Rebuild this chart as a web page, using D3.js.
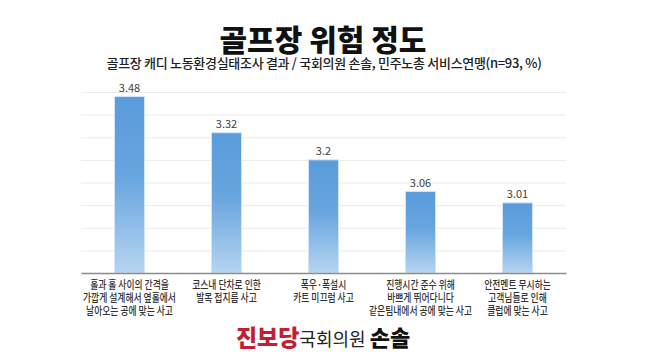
<!DOCTYPE html>
<html>
<head>
<meta charset="utf-8">
<script src="https://cdn.jsdelivr.net/npm/d3@7"></script>
<style>
  body { margin:0; background:#fff; }
  svg { display:block; font-family:"Noto Sans CJK KR", "Noto Sans", sans-serif; }
</style>
</head>
<body>
<svg id="drawing_region"></svg>
<script>
const categories = [
    ['홀과 홀 사이의 간격을', '가깝게 설계해서 옆홀에서', '날아오는 공에 맞는 사고'],
    ['코스내 단차로 인한', '발목 접지름 사고'],
    ['폭우·폭설시', '카트 미끄럼 사고'],
    ['진행시간 준수 위해', '바쁘게 뛰어다니다', '같은팀내에서 공에 맞는 사고'],
    ['안전멘트 무시하는', '고객님들로 인해', '클럽에 맞는 사고']
];
const values = [3.48, 3.32, 3.2, 3.06, 3.01];
const labels = ['3.48', '3.32', '3.2', '3.06', '3.01'];
const yticks = [2.7, 2.8, 2.9, 3.0, 3.1, 3.2, 3.3, 3.4, 3.5];

const config = {
    width: 647,
    height: 364,
    margin: {top: 92, right: 81, bottom: 91, left: 81}
};

const svg = d3.select('#drawing_region')
    .attr('width', config.width)
    .attr('height', config.height);

const inner_width = config.width - config.margin.left - config.margin.right;
const inner_height = config.height - config.margin.top - config.margin.bottom;

const defs = svg.append('defs');
const grad = defs.append('linearGradient')
    .attr('id', 'barfill')
    .attr('x1', 0).attr('y1', 0).attr('x2', 0).attr('y2', 1);
grad.append('stop').attr('offset', '0%').attr('stop-color', '#5a9bdb');
grad.append('stop').attr('offset', '45%').attr('stop-color', '#67a5de');
grad.append('stop').attr('offset', '100%').attr('stop-color', '#b6d4f1');

// titles
svg.append('text')
    .attr('x', 323).attr('y', 51)
    .attr('text-anchor', 'middle')
    .style('font-size', '30px')
    .style('font-weight', 900)
    .style('fill', '#111')
    .text('골프장 위험 정도');

svg.append('text')
    .attr('x', 324).attr('y', 68)
    .attr('text-anchor', 'middle')
    .style('font-size', '13px')
    .style('font-weight', 500)
    .style('letter-spacing', '-0.3px')
    .style('fill', '#222')
    .text('골프장 캐디 노동환경실태조사 결과 / 국회의원 손솔, 민주노총 서비스연맹(n=93, %)');

const chart = svg.append('g')
    .attr('transform', `translate(${config.margin.left}, ${config.margin.top})`);

const xscale = d3.scaleBand()
    .domain(d3.range(values.length))
    .range([0, inner_width])
    .paddingInner(0.69)
    .paddingOuter(0.345);

const yscale = d3.scaleLinear()
    .domain([2.7, 3.5])
    .range([inner_height, 0]);

// grid
const yaxis = d3.axisLeft(yscale)
    .tickValues(yticks)
    .tickSize(-inner_width)
    .tickFormat('');

chart.append('g')
    .call(yaxis)
    .call(g => g.select('.domain').remove())
    .call(g => g.selectAll('.tick line').attr('stroke', '#ebebeb').attr('stroke-width', 1));

chart.selectAll('rect.bar')
    .data(values)
    .enter()
    .append('rect')
    .attr('class', 'bar')
    .attr('x', (d, i) => xscale(i))
    .attr('y', d => yscale(d))
    .attr('width', xscale.bandwidth())
    .attr('height', d => inner_height - yscale(d))
    .style('fill', 'url(#barfill)')
    .style('stroke', '#d3e5f7')
    .style('stroke-width', 1);

chart.selectAll('text.value')
    .data(values)
    .enter()
    .append('text')
    .attr('class', 'value')
    .attr('x', (d, i) => xscale(i) + xscale.bandwidth() / 2)
    .attr('y', d => yscale(d) - 5)
    .attr('text-anchor', 'middle')
    .style('font-size', '11px')
    .style('fill', '#404040')
    .text((d, i) => labels[i]);

// baseline
const xaxis = d3.axisBottom(xscale).tickSize(0).tickFormat('');
chart.append('g')
    .attr('transform', `translate(0, ${inner_height})`)
    .call(xaxis)
    .call(g => g.select('.domain').attr('stroke', '#8c8c8c').attr('stroke-width', 1.5));

// category labels, squeezed horizontally like the condensed original font
const cat = chart.selectAll('text.cat')
    .data(categories)
    .enter()
    .append('text')
    .attr('class', 'cat')
    .attr('text-anchor', 'middle')
    .attr('transform', (d, i) => `translate(${xscale(i) + xscale.bandwidth() / 2}, ${inner_height + 16}) scale(0.8, 1)`)
    .style('font-size', '11px')
    .style('font-weight', 500)
    .style('fill', '#333');

cat.selectAll('tspan')
    .data(d => d)
    .enter()
    .append('tspan')
    .attr('x', 0)
    .attr('dy', (d, i) => i === 0 ? 0 : 13)
    .text(d => d);

// footer
const footer = svg.append('text')
    .attr('x', 323).attr('y', 346)
    .attr('text-anchor', 'middle');
footer.append('tspan')
    .style('font-size', '23px').style('font-weight', 900).style('fill', '#c41e34')
    .text('진보당');
footer.append('tspan')
    .style('font-size', '18px').style('font-weight', 400).style('fill', '#222')
    .text('국회의원 ');
footer.append('tspan')
    .style('font-size', '22px').style('font-weight', 900).style('fill', '#111')
    .text('손솔');
</script>
</body>
</html>
